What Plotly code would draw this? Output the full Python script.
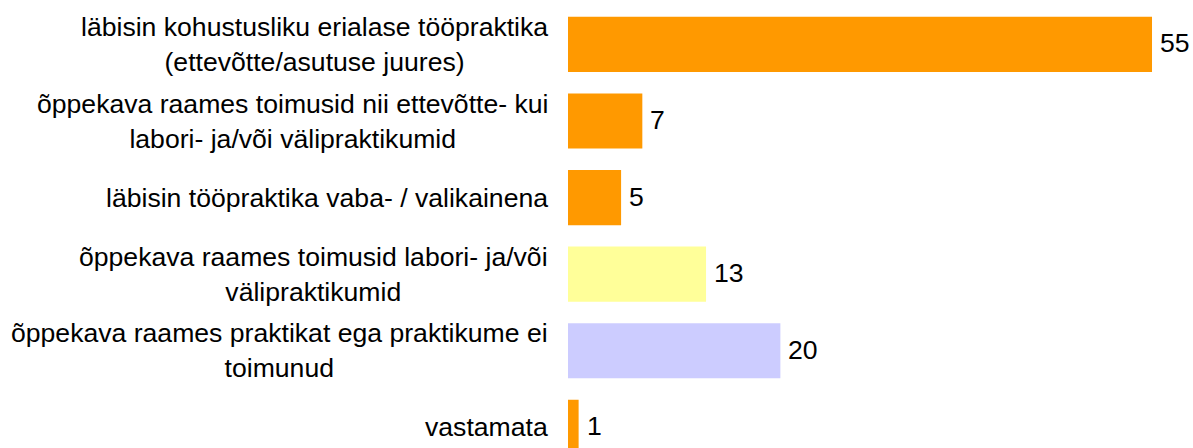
import plotly.graph_objects as go

categories = [
    "läbisin kohustusliku erialase tööpraktika<br>(ettevõtte/asutuse juures)",
    "õppekava raames toimusid nii ettevõtte- kui<br>labori- ja/või välipraktikumid",
    "läbisin tööpraktika vaba- / valikainena",
    "õppekava raames toimusid labori- ja/või<br>välipraktikumid",
    "õppekava raames praktikat ega praktikume ei<br>toimunud",
    "vastamata",
]
values = [55, 7, 5, 13, 20, 1]
colors = ["#FF9900", "#FF9900", "#FF9900", "#FFFF99", "#CCCCFF", "#FF9900"]

ids = [f"c{i}" for i in range(len(categories))]

FONT = dict(family="Liberation Sans, Arial, sans-serif", size=26.6, color="#000000")

fig = go.Figure(
    go.Bar(
        x=values,
        y=ids,
        orientation="h",
        marker=dict(color=colors, line=dict(width=0)),
        width=0.72,
        hoverinfo="skip",
    )
)

annotations = []
for cid, lab, v in zip(ids, categories, values):
    annotations.append(dict(
        x=0, xref="paper", y=cid, yref="y", text=lab, showarrow=False,
        xanchor="right", yanchor="middle", align="center", xshift=-18, font=FONT,
    ))
    annotations.append(dict(
        x=v, xref="x", y=cid, yref="y", text=str(v), showarrow=False,
        xanchor="left", yanchor="middle", xshift=6, yshift=1, font=FONT,
    ))

fig.update_layout(
    width=1193, height=448,
    margin=dict(l=568, r=0, t=0, b=0),
    paper_bgcolor="white", plot_bgcolor="white",
    showlegend=False,
    xaxis=dict(range=[0, 58.86], showgrid=False, showticklabels=False, zeroline=False, showline=False),
    yaxis=dict(type="category", categoryarray=ids, range=[5.27, -0.58], showgrid=False,
               showticklabels=False, zeroline=False, showline=False),
    annotations=annotations,
)

fig.write_html(
    "out.html",
    config={"displayModeBar": False, "staticPlot": True},
    post_script="document.body.style.margin='0';document.body.style.overflow='hidden';",
)
